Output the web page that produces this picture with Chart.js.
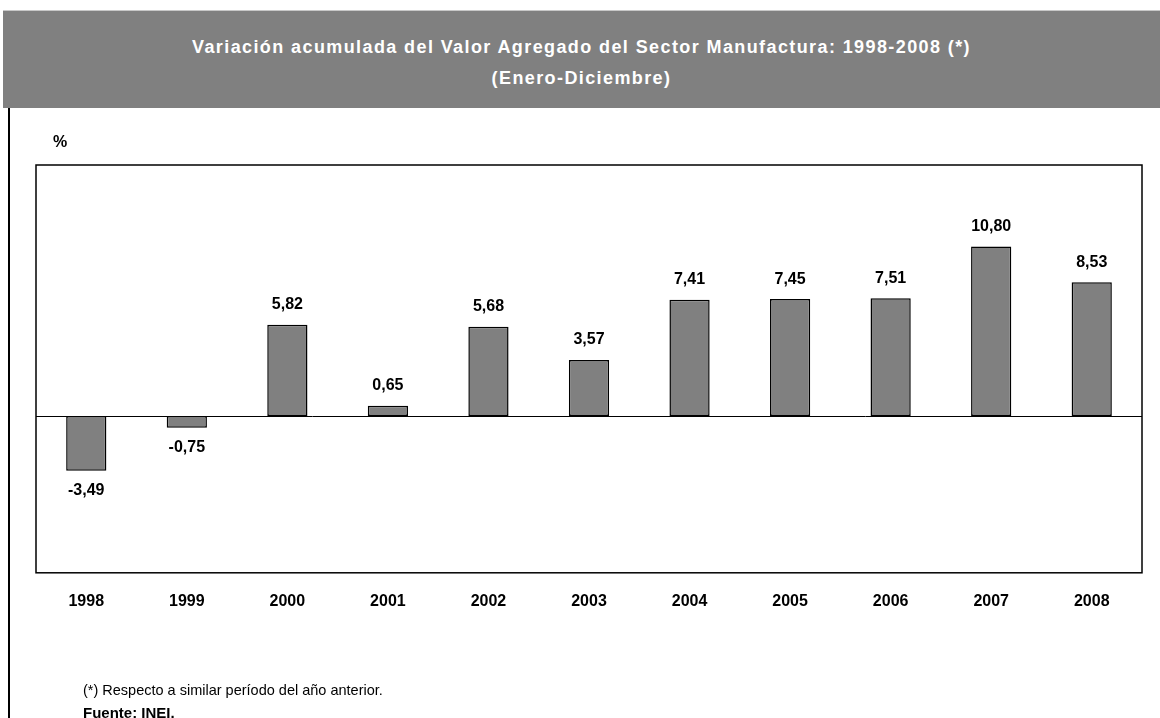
<!DOCTYPE html>
<html lang="es">
<head>
  <meta charset="UTF-8" />
  <title>Variación acumulada del Valor Agregado del Sector Manufactura</title>
  <script src="https://cdn.jsdelivr.net/npm/chart.js"></script>
  <style>
    html, body { margin: 0; padding: 0; background: #fff; }
    .pagina { position: relative; width: 1160px; height: 718px; overflow: hidden; font-family: 'Liberation Sans', Arial, sans-serif; }
    .cabecera {
      position: absolute; left: 3px; top: 10px; width: 1157px; height: 98px;
      background: #808080; border-top: 1px solid #c8c8c8;
      color: #fff; font-weight: bold;
      font-size: 18px; letter-spacing: 1.4px; text-align: center; line-height: 31px;
      box-sizing: border-box; padding-top: 21px;
    }
    .linea-izq { position: absolute; left: 8px; top: 108px; width: 2px; height: 610px; background: #000; }
    .unidad { position: absolute; left: 53px; top: 133px; font-weight: bold; font-size: 16px; }
    .nota { position: absolute; left: 83px; top: 682px; font-size: 14.5px; }
    .fuente { position: absolute; left: 83px; top: 704px; font-size: 15px; font-weight: bold; }
    canvas { position: absolute; left: 0; top: 0; }
  </style>
</head>
<body>
  <div class="pagina">
    <canvas id="grafico" width="1160" height="718"></canvas>
    <div class="cabecera">Variación acumulada del Valor Agregado del Sector Manufactura: 1998-2008 (*)<br>(Enero-Diciembre)</div>
    <div class="linea-izq"></div>
    <div class="unidad">%</div>
    <div class="nota">(*) Respecto a similar período del año anterior.</div>
    <div class="fuente">Fuente: INEI.</div>
  </div>

  <script>
    // Datos
    const anios = ['1998', '1999', '2000', '2001', '2002', '2003', '2004', '2005', '2006', '2007', '2008'];
    const variacion = [-3.49, -0.75, 5.82, 0.65, 5.68, 3.57, 7.41, 7.45, 7.51, 10.80, 8.53];
    const ejeMin = -10;
    const ejeMax = 16;

    const fuenteEtiqueta = "bold 16px 'Liberation Sans', Arial, sans-serif";

    // Marco del área del gráfico y línea del cero
    const marco = {
      id: 'marco',
      afterDraw(chart) {
        const { ctx, chartArea: a, scales } = chart;
        ctx.save();
        ctx.strokeStyle = '#000';
        ctx.lineWidth = 1.5;
        ctx.strokeRect(a.left, a.top, a.right - a.left, a.bottom - a.top);
        const y0 = Math.round(scales.y.getPixelForValue(0)) + 0.5;
        ctx.lineWidth = 1;
        ctx.beginPath();
        ctx.moveTo(a.left, y0);
        ctx.lineTo(a.right, y0);
        ctx.stroke();
        ctx.restore();
      }
    };

    // Valores encima (o debajo) de cada barra
    const etiquetas = {
      id: 'etiquetas',
      afterDatasetsDraw(chart) {
        const { ctx } = chart;
        const meta = chart.getDatasetMeta(0);
        ctx.save();
        ctx.font = fuenteEtiqueta;
        ctx.fillStyle = '#000';
        ctx.textAlign = 'center';
        ctx.textBaseline = 'middle';
        meta.data.forEach((barra, i) => {
          const v = variacion[i];
          const texto = v.toFixed(2).replace('.', ',');
          const y = v >= 0 ? barra.y - 20 : barra.y + 20;
          ctx.fillText(texto, barra.x, y);
        });
        ctx.restore();
      }
    };

    new Chart(document.getElementById('grafico'), {
      type: 'bar',
      data: {
        labels: anios,
        datasets: [{
          data: variacion,
          backgroundColor: '#808080',
          borderColor: '#000',
          borderWidth: 1.5,
          borderSkipped: false,
          barPercentage: 0.4,
          categoryPercentage: 1
        }]
      },
      options: {
        responsive: false,
        animation: false,
        layout: { padding: { left: 36, right: 18, top: 165, bottom: 88 } },
        plugins: {
          legend: { display: false },
          tooltip: { enabled: false }
        },
        scales: {
          x: {
            grid: { display: false, drawTicks: false },
            border: { display: false },
            ticks: {
              color: '#000',
              padding: 19,
              font: { family: "'Liberation Sans', Arial, sans-serif", size: 16, weight: 'bold' }
            }
          },
          y: {
            display: false,
            min: ejeMin,
            max: ejeMax
          }
        }
      },
      plugins: [marco, etiquetas]
    });
  </script>
</body>
</html>
